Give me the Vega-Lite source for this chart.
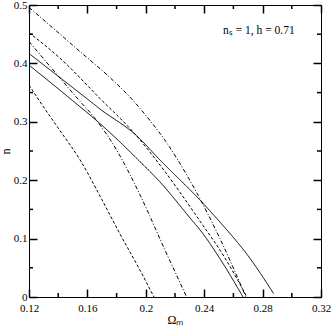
{
  "$schema": "https://vega.github.io/schema/vega-lite/v6.json",
  "autosize": {"type": "none"},
  "padding": {"left": 29, "top": 5, "right": 11, "bottom": 30},
  "width": 292,
  "height": 292,
  "background": "white",
  "config": {
    "view": {"stroke": "black", "strokeWidth": 1},
    "axis": {"labelFont": "Liberation Serif, Times New Roman, serif", "titleFont": "Liberation Serif, Times New Roman, serif", "labelFontSize": 11, "titleFontSize": 12, "titleFontWeight": "normal", "labelColor": "black", "titleColor": "black", "domain": false, "grid": false, "labelFlush": false, "labelOverlap": false}
  },
  "datasets": {
    "curves": [
      {"c": "A", "x": 0.12, "y": 0.496}, {"c": "A", "x": 0.1314, "y": 0.4714}, {"c": "A", "x": 0.1549, "y": 0.4204}, {"c": "A", "x": 0.1748, "y": 0.3772}, {"c": "A", "x": 0.1885, "y": 0.344}, {"c": "A", "x": 0.2029, "y": 0.302}, {"c": "A", "x": 0.2138, "y": 0.266}, {"c": "A", "x": 0.2207, "y": 0.2395}, {"c": "A", "x": 0.2349, "y": 0.1785}, {"c": "A", "x": 0.2508, "y": 0.1}, {"c": "A", "x": 0.2686, "y": 0},
      {"c": "B", "x": 0.12, "y": 0.4526}, {"c": "B", "x": 0.1412, "y": 0.409}, {"c": "B", "x": 0.1686, "y": 0.34}, {"c": "B", "x": 0.1926, "y": 0.279}, {"c": "B", "x": 0.2097, "y": 0.226}, {"c": "B", "x": 0.2371, "y": 0.13}, {"c": "B", "x": 0.2542, "y": 0.0668}, {"c": "B", "x": 0.2693, "y": 0},
      {"c": "C", "x": 0.12, "y": 0.4375}, {"c": "C", "x": 0.1405, "y": 0.377}, {"c": "C", "x": 0.1542, "y": 0.337}, {"c": "C", "x": 0.1645, "y": 0.308}, {"c": "C", "x": 0.18, "y": 0.2517}, {"c": "C", "x": 0.196, "y": 0.175}, {"c": "C", "x": 0.2132, "y": 0.08}, {"c": "C", "x": 0.228, "y": 0},
      {"c": "D", "x": 0.12, "y": 0.417}, {"c": "D", "x": 0.1405, "y": 0.377}, {"c": "D", "x": 0.161, "y": 0.337}, {"c": "D", "x": 0.1686, "y": 0.322}, {"c": "D", "x": 0.1938, "y": 0.276}, {"c": "D", "x": 0.2097, "y": 0.2346}, {"c": "D", "x": 0.2371, "y": 0.166}, {"c": "D", "x": 0.2495, "y": 0.132}, {"c": "D", "x": 0.2714, "y": 0.066}, {"c": "D", "x": 0.2875, "y": 0.006},
      {"c": "E", "x": 0.12, "y": 0.397}, {"c": "E", "x": 0.1344, "y": 0.368}, {"c": "E", "x": 0.1495, "y": 0.337}, {"c": "E", "x": 0.1686, "y": 0.297}, {"c": "E", "x": 0.1949, "y": 0.2346}, {"c": "E", "x": 0.2097, "y": 0.197}, {"c": "E", "x": 0.2314, "y": 0.132}, {"c": "E", "x": 0.2371, "y": 0.115}, {"c": "E", "x": 0.2522, "y": 0.06}, {"c": "E", "x": 0.2666, "y": 0},
      {"c": "F", "x": 0.12, "y": 0.363}, {"c": "F", "x": 0.1268, "y": 0.337}, {"c": "F", "x": 0.1412, "y": 0.285}, {"c": "F", "x": 0.1549, "y": 0.235}, {"c": "F", "x": 0.1686, "y": 0.173}, {"c": "F", "x": 0.1823, "y": 0.108}, {"c": "F", "x": 0.196, "y": 0.046}, {"c": "F", "x": 0.2056, "y": 0}
    ],
    "label": [{"x": 0.2529, "y": 0.455, "t": "nₛ = 1,  h = 0.71"}],
    "xminor": [{"v": 0.14}, {"v": 0.18}, {"v": 0.22}, {"v": 0.26}, {"v": 0.3}],
    "yminor": [{"v": 0.05}, {"v": 0.15}, {"v": 0.25}, {"v": 0.35}, {"v": 0.45}]
  },
  "layer": [
    {
      "data": {"name": "curves"},
      "mark": {"type": "line", "color": "black", "strokeWidth": 1, "interpolate": "monotone", "clip": true},
      "encoding": {
        "x": {"field": "x", "type": "quantitative", "scale": {"domain": [0.12, 0.32], "nice": false, "zero": false},
          "axis": {"orient": "bottom", "title": "Ωₘ", "values": [0.12, 0.16, 0.2, 0.24, 0.28, 0.32], "format": "~g",
            "ticks": true, "tickColor": "black", "tickWidth": 1.5, "tickSize": -8, "labelPadding": 13, "titlePadding": 1}},
        "y": {"field": "y", "type": "quantitative", "scale": {"domain": [0, 0.5], "nice": false},
          "axis": {"orient": "left", "title": "n", "values": [0, 0.1, 0.2, 0.3, 0.4, 0.5], "format": "~g",
            "ticks": true, "tickColor": "black", "tickWidth": 1.5, "tickSize": -8, "labelPadding": 10, "titlePadding": 1}},
        "detail": {"field": "c"},
        "strokeDash": {"field": "c", "type": "nominal", "legend": null,
          "scale": {"domain": ["A", "B", "C", "D", "E", "F"], "range": [[4, 2, 1, 2], [3, 2], [4, 2, 1, 2], [1, 0], [1, 0], [3, 2]]}}
      }
    },
    {
      "data": {"name": "label"},
      "mark": {"type": "text", "align": "left", "baseline": "middle", "font": "Liberation Serif, Times New Roman, serif", "fontSize": 11.5, "color": "black"},
      "encoding": {
        "x": {"field": "x", "type": "quantitative", "axis": null},
        "y": {"field": "y", "type": "quantitative", "axis": null},
        "text": {"field": "t"}
      }
    },
    {
      "data": {"name": "curves"},
      "mark": {"type": "line", "strokeOpacity": 0},
      "encoding": {
        "x": {"field": "x", "type": "quantitative",
          "axis": {"orient": "top", "title": null, "labels": false, "ticks": true, "tickColor": "black", "tickWidth": 1.5,
            "values": [0.12, 0.16, 0.2, 0.24, 0.28, 0.32], "tickSize": -8}},
        "y": {"field": "y", "type": "quantitative",
          "axis": {"orient": "right", "title": null, "labels": false, "ticks": true, "tickColor": "black", "tickWidth": 1.5,
            "values": [0, 0.1, 0.2, 0.3, 0.4, 0.5], "tickSize": -8}},
        "detail": {"field": "c"}
      }
    },
    {
      "data": {"name": "xminor"},
      "mark": {"type": "tick", "orient": "vertical", "size": 8, "thickness": 1.5, "color": "black", "opacity": 1, "clip": true},
      "encoding": {
        "x": {"field": "v", "type": "quantitative", "axis": null},
        "y": {"datum": 0, "type": "quantitative", "axis": null}
      }
    },
    {
      "data": {"name": "xminor"},
      "mark": {"type": "tick", "orient": "vertical", "size": 8, "thickness": 1.5, "color": "black", "opacity": 1, "clip": true},
      "encoding": {
        "x": {"field": "v", "type": "quantitative", "axis": null},
        "y": {"datum": 0.5, "type": "quantitative", "axis": null}
      }
    },
    {
      "data": {"name": "yminor"},
      "mark": {"type": "tick", "orient": "horizontal", "size": 8, "thickness": 1.5, "color": "black", "opacity": 1, "clip": true},
      "encoding": {
        "y": {"field": "v", "type": "quantitative", "axis": null},
        "x": {"datum": 0.12, "type": "quantitative", "axis": null}
      }
    },
    {
      "data": {"name": "yminor"},
      "mark": {"type": "tick", "orient": "horizontal", "size": 8, "thickness": 1.5, "color": "black", "opacity": 1, "clip": true},
      "encoding": {
        "y": {"field": "v", "type": "quantitative", "axis": null},
        "x": {"datum": 0.32, "type": "quantitative", "axis": null}
      }
    }
  ],
  "resolve": {"axis": {"x": "independent", "y": "independent"}}
}
